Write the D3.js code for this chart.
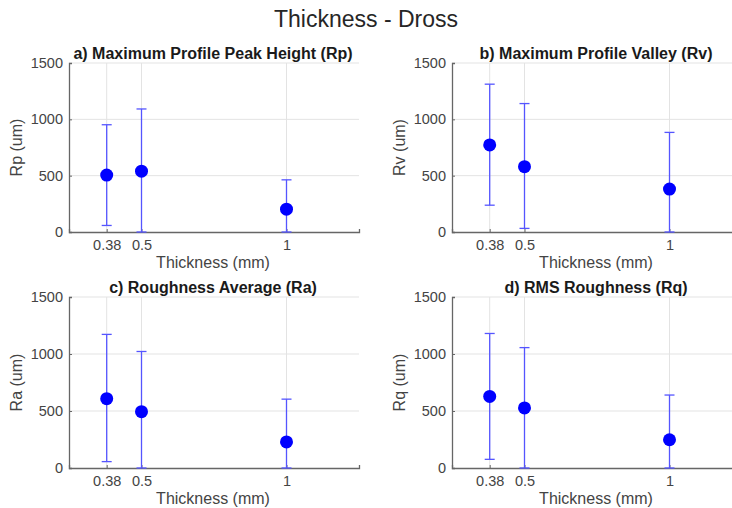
<!DOCTYPE html>
<html>
<head>
<meta charset="utf-8">
<script src="https://cdn.jsdelivr.net/npm/d3@7"></script>
<style>
  body { margin: 0; background: #fff; }
  svg { display: block; font-family: "Liberation Sans", Arial, sans-serif; }
</style>
</head>
<body>
<svg id="chart" width="732" height="508"></svg>
<script>
// thickness values (mm) and tick labels
var thickness = [0.38, 0.5, 1];
var xTickLabels = ["0.38", "0.5", "1"];
var yTicks = [0, 500, 1000, 1500];

// mean values and error bar ends for each panel
var rpMean = [505, 540, 203];
var rpLow = [58, 0, 0];
var rpHigh = [952, 1092, 463];

var rvMean = [773, 580, 381];
var rvLow = [238, 32, 0];
var rvHigh = [1312, 1140, 884];

var raMean = [608, 494, 229];
var raLow = [56, 0, 0];
var raHigh = [1172, 1022, 604];

var rqMean = [628, 527, 248];
var rqLow = [76, 0, 0];
var rqHigh = [1180, 1056, 640];

var panels = [
    { title: "a) Maximum Profile Peak Height (Rp)", ylabel: "Rp (um)", mean: rpMean, low: rpLow, high: rpHigh, left: 69, top: 63, bottom: 232 },
    { title: "b) Maximum Profile Valley (Rv)", ylabel: "Rv (um)", mean: rvMean, low: rvLow, high: rvHigh, left: 452, top: 63, bottom: 232 },
    { title: "c) Roughness Average (Ra)", ylabel: "Ra (um)", mean: raMean, low: raLow, high: raHigh, left: 69, top: 297, bottom: 468 },
    { title: "d) RMS Roughness (Rq)", ylabel: "Rq (um)", mean: rqMean, low: rqLow, high: rqHigh, left: 452, top: 297, bottom: 468 }
];

var plotWidth = 290;
var svg = d3.select("#chart");

// super title
svg.append("text")
    .attr("x", 366)
    .attr("y", 27)
    .attr("text-anchor", "middle")
    .style("font-size", "23px")
    .style("fill", "#262626")
    .text("Thickness - Dross");

panels.forEach(function (p) {
    var h = p.bottom - p.top;

    var x = d3.scaleLinear()
        .domain([0.25, 1.25])
        .range([0, plotWidth]);

    var y = d3.scaleLinear()
        .domain([0, 1500])
        .range([h, 0]);

    var g = svg.append("g")
        .attr("transform", "translate(" + p.left + "," + p.top + ")");

    // grid lines
    g.selectAll(".hgrid")
        .data(yTicks.slice(1))
        .enter().append("line")
        .attr("x1", 0)
        .attr("x2", plotWidth)
        .attr("y1", function (d) { return y(d); })
        .attr("y2", function (d) { return y(d); })
        .style("stroke", "#e3e3e3")
        .style("stroke-width", 1);

    g.selectAll(".vgrid")
        .data(thickness)
        .enter().append("line")
        .attr("x1", function (d) { return x(d); })
        .attr("x2", function (d) { return x(d); })
        .attr("y1", 0)
        .attr("y2", h)
        .style("stroke", "#e3e3e3")
        .style("stroke-width", 1);

    // y axis
    var yAxis = g.append("g")
        .call(d3.axisLeft(y).tickValues(yTicks).tickFormat(d3.format("d"))
            .tickSize(-3).tickPadding(6));
    // x axis
    var xAxis = g.append("g")
        .attr("transform", "translate(0," + h + ")")
        .call(d3.axisBottom(x).tickValues(thickness)
            .tickFormat(function (d, i) { return xTickLabels[i]; })
            .tickSize(-3).tickPadding(8));

    [yAxis, xAxis].forEach(function (ax) {
        ax.select(".domain").style("stroke", "#666").style("stroke-width", 1.3);
        ax.selectAll(".tick line").style("stroke", "#666");
        ax.selectAll(".tick text")
            .style("font-size", "14.5px")
            .style("fill", "#444")
            .style("font-family", "'Liberation Sans', Arial, sans-serif");
    });

    // error bars
    var rows = thickness.map(function (t, i) {
        return { t: t, mean: p.mean[i], low: p.low[i], high: p.high[i] };
    });

    var eb = g.selectAll(".eb")
        .data(rows)
        .enter().append("g")
        .style("stroke", "#5555ff")
        .style("stroke-width", 1.3);

    eb.append("line")
        .attr("x1", function (d) { return x(d.t); })
        .attr("x2", function (d) { return x(d.t); })
        .attr("y1", function (d) { return y(d.low); })
        .attr("y2", function (d) { return y(d.high); });
    eb.append("line")
        .attr("x1", function (d) { return x(d.t) - 5; })
        .attr("x2", function (d) { return x(d.t) + 5; })
        .attr("y1", function (d) { return y(d.high); })
        .attr("y2", function (d) { return y(d.high); });
    eb.append("line")
        .attr("x1", function (d) { return x(d.t) - 5; })
        .attr("x2", function (d) { return x(d.t) + 5; })
        .attr("y1", function (d) { return y(d.low); })
        .attr("y2", function (d) { return y(d.low); });

    // markers
    g.selectAll(".dot")
        .data(rows)
        .enter().append("circle")
        .attr("cx", function (d) { return x(d.t); })
        .attr("cy", function (d) { return y(d.mean); })
        .attr("r", 6.5)
        .style("fill", "#0000ff");

    // panel title
    g.append("text")
        .attr("x", plotWidth / 2 - 1)
        .attr("y", -4)
        .attr("text-anchor", "middle")
        .style("font-size", "16px")
        .style("font-weight", "bold")
        .style("fill", "#1a1a1a")
        .text(p.title);

    // axis labels
    g.append("text")
        .attr("x", plotWidth / 2 - 1)
        .attr("y", h + 36)
        .attr("text-anchor", "middle")
        .style("font-size", "16px")
        .style("fill", "#444")
        .text("Thickness (mm)");

    g.append("text")
        .attr("transform", "translate(-47," + h / 2 + ") rotate(-90)")
        .attr("text-anchor", "middle")
        .style("font-size", "16px")
        .style("fill", "#444")
        .text(p.ylabel);
});
</script>
</body>
</html>
